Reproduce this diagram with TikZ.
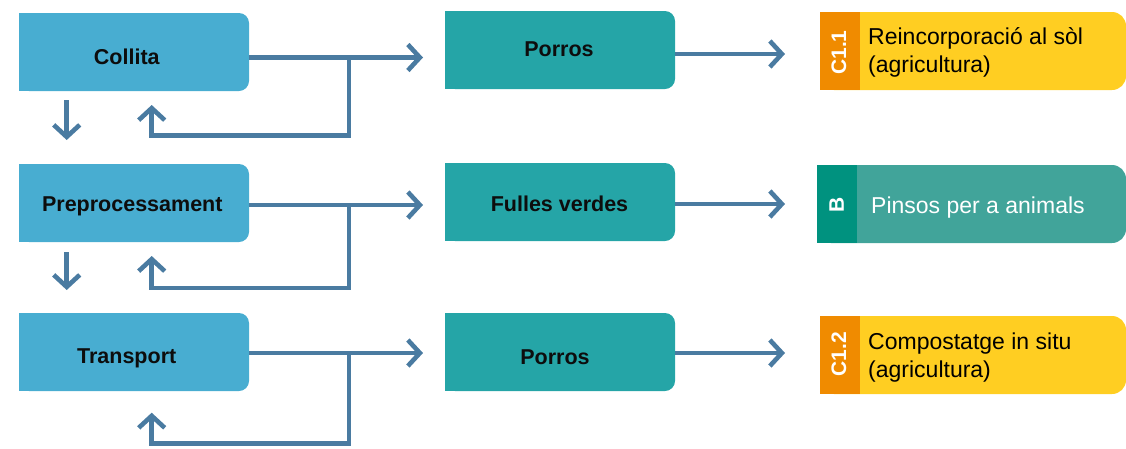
\documentclass[tikz,border=0pt]{standalone}
\usepackage{fontspec}
\setmainfont{Liberation Sans}
\usetikzlibrary{arrows.meta}
\definecolor{lblue}{HTML}{48ADD1}
\definecolor{mteal}{HTML}{25A5A7}
\definecolor{arrc}{HTML}{4A7BA1}
\definecolor{orng}{HTML}{F08B00}
\definecolor{ylw}{HTML}{FFCE22}
\definecolor{btag}{HTML}{00927F}
\definecolor{bbox}{HTML}{41A49A}
\begin{document}
\begin{tikzpicture}[x=1pt,y=-1pt,
  box/.style={rectangle, rounded corners=10pt, anchor=north west, inner sep=0pt, outer sep=0pt, minimum width=230pt, minimum height=78pt},
  lbox/.style={box, fill=lblue},
  mbox/.style={box, fill=mteal},
  rbox/.style={rectangle, rounded corners=14pt, anchor=north west, inner sep=0pt, outer sep=0pt, minimum width=306pt, minimum height=78pt},
  tagbox/.style={rectangle, anchor=north west, inner sep=0pt, outer sep=0pt, minimum width=40pt, minimum height=78pt},
  lbl/.style={font=\fontsize{21.5}{26}\selectfont\bfseries, text=black!95, anchor=base, inner sep=0pt},
  rlbl/.style={font=\fontsize{23}{28}\selectfont, align=left, anchor=base west, inner sep=0pt},
  taglbl/.style={font=\fontsize{21}{25}\selectfont\bfseries, text=white, rotate=90, inner sep=0pt},
  arr/.style={draw=arrc, line width=4.6pt, -{Straight Barb[length=12pt,width=26pt,line width=4.6pt]}},
]
\useasboundingbox (0,0) rectangle (1126,448);

% left column
\node[lbox] (collita) at (19,13) {};
\fill[lblue] (collita.north west) rectangle (collita.south);
\node[lbox] (prepro) at (19,164) {};
\fill[lblue] (prepro.north west) rectangle (prepro.south);
\node[lbox] (transp) at (19,313) {};
\fill[lblue] (transp.north west) rectangle (transp.south);
\node[lbl] (collitat) at (126.8,64.3) {Collita};
\node[lbl] (preprot) at (132.3,211) {Preprocessament};
\node[lbl] (transpt) at (126.7,363.3) {Transport};

% middle column
\node[mbox] (porros1) at (445,11) {};
\fill[mteal] (porros1.north west) rectangle (porros1.south);
\node[mbox] (fulles) at (445,163) {};
\fill[mteal] (fulles.north west) rectangle (fulles.south);
\node[mbox] (porros3) at (445,313) {};
\fill[mteal] (porros3.north west) rectangle (porros3.south);
\node[lbl] (porros1t) at (559,56) {Porros};
\node[lbl] (fullest) at (559.5,211) {Fulles verdes};
\node[lbl] (porros3t) at (555,364) {Porros};

% right column
\node[rbox, fill=ylw] (r1) at (820,12) {};
\node[tagbox, fill=orng] (t1) at (820,12) {};
\node[taglbl] (t1t) at (839,52.5) {C1.1};
\node[rlbl] (r1t) at (868,72) {Reincorporació al sòl\\(agricultura)};

\node[rbox, fill=bbox, minimum width=309pt] (r2) at (817,165) {};
\node[tagbox, fill=btag] (t2) at (817,165) {};
\node[taglbl] (t2t) at (836.7,205) {B};
\node[rlbl, text=white] (r2t) at (871,213) {Pinsos per a animals};

\node[rbox, fill=ylw] (r3) at (820,316) {};
\node[tagbox, fill=orng] (t3) at (820,316) {};
\node[taglbl] (t3t) at (839,354) {C1.2};
\node[rlbl] (r3t) at (868,377) {Compostatge in situ\\(agricultura)};

% connectors left -> middle
\draw[arr, shorten >=22pt] (collita.east |- 0,57.5) -- (porros1.west |- 0,57.5);
\draw[arr, shorten >=22pt] (prepro.east |- 0,205) -- (fulles.west |- 0,205);
\draw[arr, shorten >=22pt] (transp.east |- 0,353) -- (porros3.west |- 0,353);

% connectors middle -> right
\draw[arr, shorten >=35pt] (porros1.east |- 0,54) -- (r1.west |- 0,54);
\draw[arr, shorten >=32pt] (fulles.east |- 0,204) -- (r2.west |- 0,204);
\draw[arr, shorten >=35pt] (porros3.east |- 0,353) -- (r3.west |- 0,353);

% feedback loops
\coordinate (j1) at (349,57.5);
\coordinate (f1) at (151.7,105);
\draw[arr] (j1) -- (349,135.5) -| (f1);
\coordinate (j2) at (349,205);
\coordinate (f2) at (151.7,256);
\draw[arr] (j2) -- (349,288) -| (f2);
\coordinate (j3) at (349,353);
\coordinate (f3) at (151.7,412.7);
\draw[arr] (j3) -- (349,443.3) -| (f3);

% downward arrows
\draw[arr, shorten <=9pt, shorten >=24pt] (collita.south -| 66.7,0) -- (prepro.north -| 66.7,0);
\draw[arr, shorten <=10pt, shorten >=23pt] (prepro.south -| 66.7,0) -- (transp.north -| 66.7,0);
\end{tikzpicture}
\end{document}
